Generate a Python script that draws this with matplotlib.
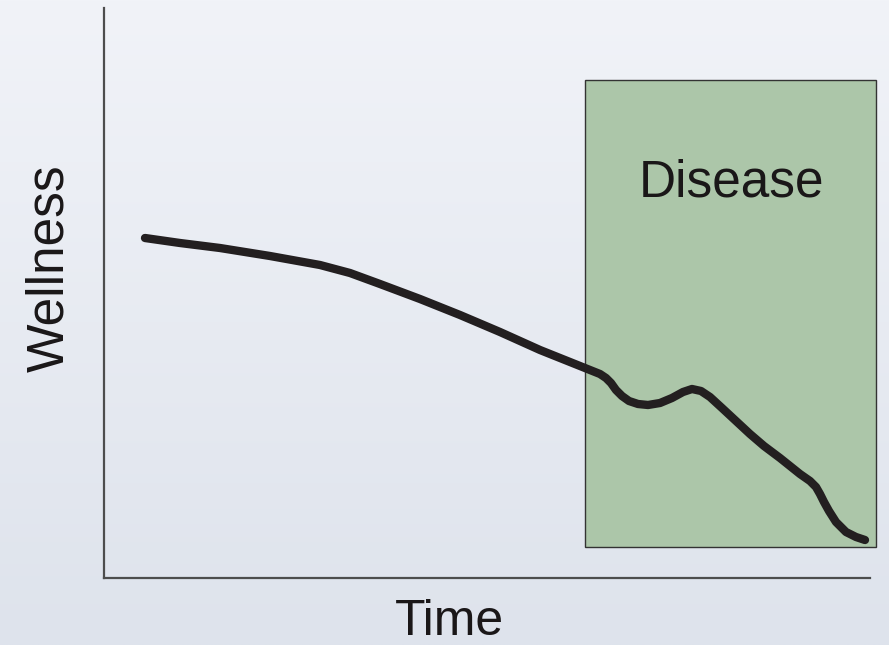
import numpy as np
import matplotlib
matplotlib.use("Agg")
import matplotlib.pyplot as plt
from matplotlib.patches import Rectangle

# Curve (time, wellness)
time = [41, 76, 116, 166, 216, 246, 276, 316, 356, 396, 436, 466, 486, 496, 502, 507,
        512, 518, 525, 534, 544, 556, 568, 579, 588, 597, 606, 618, 632, 646, 660, 676,
        696, 706, 712, 716, 720, 725, 732, 742, 752, 761]
wellness = [340, 335, 330, 322, 313, 305, 294, 279, 263, 246, 228, 216, 208, 204, 200, 195,
            188, 182, 177, 174, 173, 175, 180, 186, 189, 187, 181, 170, 157, 144, 132, 120,
            104, 97, 91, 84, 76, 67, 56, 46, 41, 38]

disease_start, disease_end = 481, 772
disease_low, disease_high = 31, 498

W, H = 889, 645
fig = plt.figure(figsize=(W / 100, H / 100), dpi=100)

# gradient background
bg = fig.add_axes([0, 0, 1, 1], zorder=-10)
top = np.array([241, 243, 248]) / 255
bot = np.array([222, 227, 236]) / 255
t = np.linspace(0, 1, 256)[:, None]
grad = top[None, :] * (1 - t) + bot[None, :] * t
bg.imshow(np.repeat(grad[:, None, :], 2, axis=1), aspect="auto", extent=[0, 1, 0, 1])
bg.axis("off")

ax = fig.add_axes([104 / W, (H - 578) / H, (870 - 104) / W, 570 / H])
ax.patch.set_alpha(0)
ax.set_xlim(0, 766)
ax.set_ylim(0, 570)
for s in ["top", "right"]:
    ax.spines[s].set_visible(False)
for s in ["left", "bottom"]:
    ax.spines[s].set_color("#4d4d4d")
    ax.spines[s].set_linewidth(1.6)
ax.set_xticks([])
ax.set_yticks([])

rect = Rectangle((disease_start, disease_low), disease_end - disease_start,
                 disease_high - disease_low, facecolor="#acc6a9", edgecolor="#333333",
                 linewidth=1.0, clip_on=False, zorder=1)
ax.add_patch(rect)
ax.text((disease_start + disease_end) / 2 + 1, 395, "Disease", fontsize=37,
        family="Liberation Sans", color="#1a1718", ha="center", va="center", zorder=2)

ax.plot(time, wellness, color="#231f20", linewidth=6, solid_capstyle="round",
        solid_joinstyle="round", zorder=3, clip_on=False)

fig.text(449 / W, 1 - 622 / H, "Time", fontsize=36, family="Liberation Sans",
         color="#1a1718", ha="center", va="center")
fig.text(50 / W, 1 - 268 / H, "Wellness", fontsize=37, family="Liberation Sans",
         color="#1a1718", ha="center", va="center", rotation=90)

fig.savefig("out.png", dpi=100)
